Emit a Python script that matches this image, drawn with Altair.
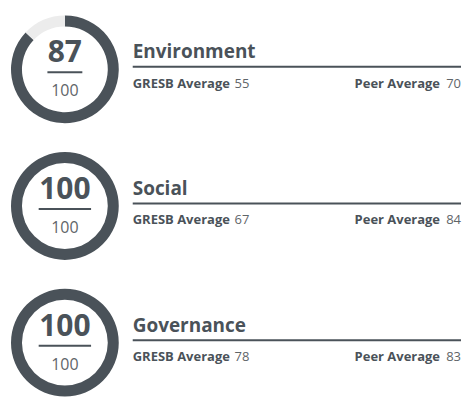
import altair as alt
import pandas as pd

categories = ["Environment", "Social", "Governance"]
scores = [87, 100, 100]
max_scores = [100, 100, 100]
gresb_avg = [55, 67, 78]
peer_avg = [70, 84, 83]

DARK = "#4a5259"
LIGHT = "#ececec"
GREY = "#5f6569"
FONT = "Open Sans"

W, H = 454, 118
CX, CY = 57, 61


def row(i):
    info = pd.DataFrame([{
        "cat": categories[i],
        "score": str(scores[i]),
        "max": str(max_scores[i]),
        "gl": "GRESB Average",
        "gv": str(gresb_avg[i]),
        "pl": "Peer Average",
        "pv": str(peer_avg[i]),
    }])
    donut = pd.DataFrame({
        "part": ["score", "rest"],
        "v": [scores[i], max_scores[i] - scores[i]],
        "ord": [0, 1],
    })
    base = alt.Chart(info)
    ring = alt.Chart(donut).mark_arc(outerRadius=54, innerRadius=43).encode(
        theta=alt.Theta("v:Q", stack=True),
        order=alt.Order("ord:Q"),
        color=alt.Color("part:N", scale=alt.Scale(domain=["score", "rest"], range=[DARK, LIGHT]), legend=None),
        x=alt.value(CX), y=alt.value(CY),
    )
    numw = 17.5 * len(str(scores[i]))
    big = base.mark_text(font=FONT, fontSize=30, fontWeight="bold", color=DARK, baseline="middle", align="center").encode(
        x=alt.value(CX), y=alt.value(CY - 16), text="score:N")
    under = base.mark_rule(color=DARK, strokeWidth=2).encode(
        x=alt.value(CX - numw / 2), x2=alt.value(CX + numw / 2), y=alt.value(CY + 3))
    den = base.mark_text(font=FONT, fontSize=16, color=GREY, baseline="middle", align="center").encode(
        x=alt.value(CX), y=alt.value(CY + 22), text="max:N")
    title = base.mark_text(font=FONT, fontSize=19, fontWeight="bold", color=DARK, baseline="alphabetic", align="left").encode(
        x=alt.value(125), y=alt.value(CY - 11), text="cat:N")
    line = base.mark_rule(color=DARK, strokeWidth=2).encode(
        x=alt.value(125), x2=alt.value(W), y=alt.value(CY - 2.5))
    gl = base.mark_text(font=FONT, fontSize=13, fontWeight="bold", color=DARK, baseline="middle", align="left").encode(
        x=alt.value(125), y=alt.value(CY + 14.5), text="gl:N")
    gv = base.mark_text(font=FONT, fontSize=13, color=GREY, baseline="middle", align="left").encode(
        x=alt.value(227), y=alt.value(CY + 14.5), text="gv:N")
    pv = base.mark_text(font=FONT, fontSize=13, color=GREY, baseline="middle", align="right").encode(
        x=alt.value(W), y=alt.value(CY + 14.5), text="pv:N")
    pl = base.mark_text(font=FONT, fontSize=13, fontWeight="bold", color=DARK, baseline="middle", align="right").encode(
        x=alt.value(W - 21), y=alt.value(CY + 14.5), text="pl:N")
    return alt.layer(ring, big, under, den, title, line, gl, gv, pl, pv).properties(width=W, height=H)


chart = alt.vconcat(*[row(i) for i in range(3)], spacing=19).properties(
    padding=0, background="white"
).configure_view(strokeWidth=0, stroke="transparent")

chart.save("out.html", embed_options={"renderer": "svg", "actions": False})
